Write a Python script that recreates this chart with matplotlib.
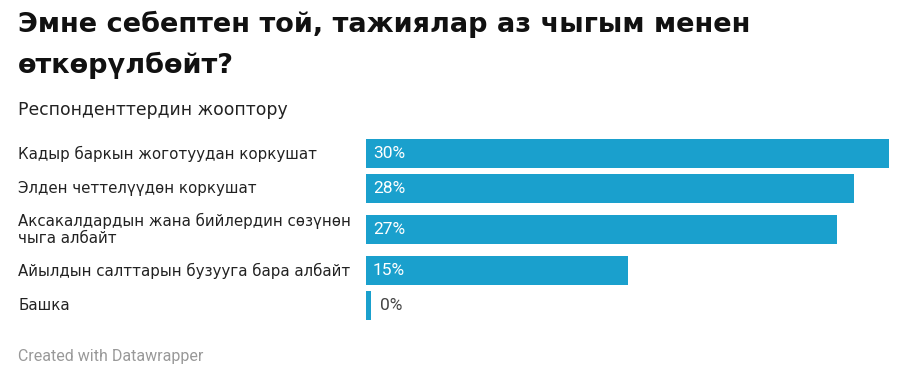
"""Datawrapper-style horizontal bar chart."""

import matplotlib.pyplot as plt
import matplotlib.transforms as mtransforms

categories = [
    "Кадыр баркын жоготуудан коркушат",
    "Элден четтелүүдөн коркушат",
    "Аксакалдардын жана бийлердин сөзүнөн\nчыга албайт",
    "Айылдын салттарын бузууга бара албайт",
    "Башка",
]
values = [30, 28, 27, 15, 0.3]
value_labels = ["30%", "28%", "27%", "15%", "0%"]

title_lines = ["Эмне себептен той, тажиялар аз чыгым менен", "өткөрүлбөйт?"]
subtitle = "Респонденттердин жооптору"
footer = "Created with Datawrapper"

BAR_COLOR = "#1aa0cd"
TEXT_COLOR = "#222222"
W, H = 905, 368

fig = plt.figure(figsize=(W / 100, H / 100), dpi=100)
fig.patch.set_facecolor("white")

# rows: single-line rows are 35 px tall, two-line rows 47 px
row_heights = [35 + 12 * (c.count("\n")) for c in categories]
centers = []
acc = 0
for rh in row_heights:
    centers.append(acc + rh / 2)
    acc += rh
total = acc

top_px, left_px, right_px = 136, 366, 889
ax = fig.add_axes([left_px / W, (H - top_px - total) / H,
                   (right_px - left_px) / W, total / H])
ax.set_xlim(0, 30)
ax.set_ylim(total, 0)
ax.axis("off")

ax.barh(centers, values, height=29, color=BAR_COLOR, align="center")

lab_tr = mtransforms.blended_transform_factory(fig.transFigure, ax.transData)
for c, y in zip(categories, centers):
    ax.text(18 / W, y, c, transform=lab_tr, ha="left", va="center",
            fontsize=10.85, color=TEXT_COLOR, family="DejaVu Sans",
            linespacing=1.2)

for v, lab, y in zip(values, value_labels, centers):
    if v >= 3:
        tr = ax.transData + mtransforms.ScaledTranslation(7 / 100, 0, fig.dpi_scale_trans)
        ax.text(0, y, lab, transform=tr, ha="left", va="center",
                fontsize=12.5, color="white", family="Roboto")
    else:
        tr = ax.transData + mtransforms.ScaledTranslation(9 / 100, 0, fig.dpi_scale_trans)
        ax.text(v, y, lab, transform=tr, ha="left", va="center",
                fontsize=12.5, color="#444444", family="Roboto")

for i, line in enumerate(title_lines):
    fig.text(18 / W, 1 - (32 + 41 * i) / H, line, ha="left", va="baseline",
             fontsize=19.5, fontweight="bold", color="#111111",
             family="DejaVu Sans")
fig.text(18 / W, 1 - 115 / H, subtitle, ha="left", va="baseline",
         fontsize=12.4, color=TEXT_COLOR, family="DejaVu Sans")
fig.text(18 / W, 1 - 361 / H, footer, ha="left", va="baseline",
         fontsize=11.5, color="#999999", family="Roboto")

fig.savefig("out.png", dpi=100, facecolor="white")
